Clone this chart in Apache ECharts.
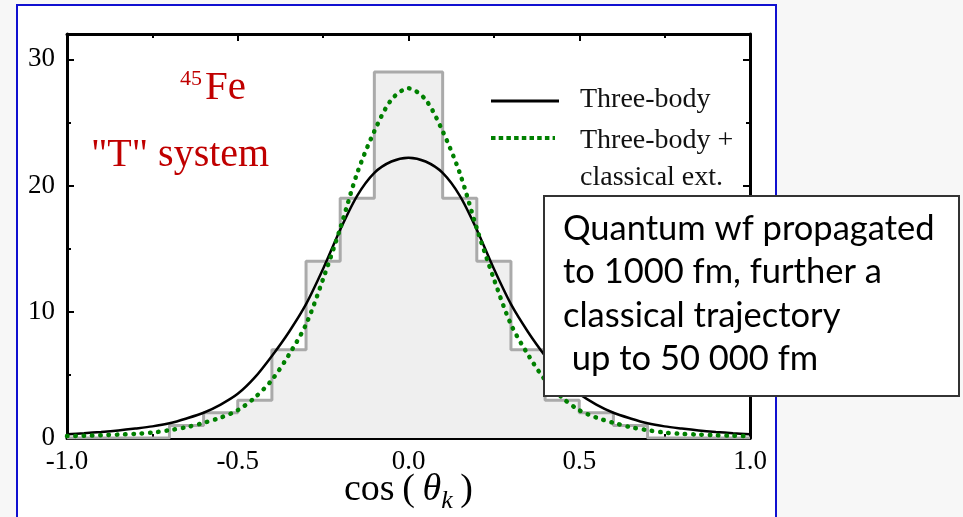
<!DOCTYPE html>
<html>
<head>
<meta charset="utf-8">
<script src="https://cdn.jsdelivr.net/npm/echarts@6/dist/echarts.min.js"></script>
<style>
html,body{margin:0;padding:0;background:#f7f7f7;}
#chart{width:963px;height:517px;}
</style>
</head>
<body>
<div id="chart"></div>
<script>
// Histogram bins (width 0.1) starting at these x values
const binStart = [-1.0,-0.9,-0.8,-0.7,-0.6,-0.5,-0.4,-0.3,-0.2,-0.1,0.0,0.1,0.2,0.3,0.4,0.5,0.6,0.7,0.8,0.9];
const binCounts = [0,0,0,1,2,3,7,14,19,29,29,19,14,7,3,2,1,0,0,0];
const binEnd = 1.0;

// Curves
const curveX = [-1.0,-0.95,-0.9,-0.85,-0.8,-0.75,-0.7,-0.65,-0.6,-0.55,-0.5,-0.45,-0.4,-0.35,-0.3,-0.25,-0.2,-0.15,-0.1,-0.05,
  0.0,0.05,0.1,0.15,0.2,0.25,0.3,0.35,0.4,0.45,0.5,0.55,0.6,0.65,0.7,0.75,0.8,0.85,0.9,0.95,1.0];
const threeBody = [0.3,0.38,0.48,0.6,0.75,0.92,1.17,1.55,2.0,2.65,3.5,4.8,6.5,8.4,10.6,13.4,16.5,19.2,21.0,21.9,
  22.2,21.9,21.0,19.2,16.5,13.4,10.6,8.4,6.5,4.8,3.5,2.65,2.0,1.55,1.17,0.92,0.75,0.6,0.48,0.38,0.3];
const classicalExt = [0.15,0.18,0.22,0.27,0.33,0.43,0.62,0.86,1.2,1.62,2.2,3.2,4.6,6.6,9.0,12.6,16.6,21.0,24.3,26.8,
  27.7,26.8,24.3,21.0,16.6,12.6,9.0,6.6,4.6,3.2,2.2,1.62,1.2,0.86,0.62,0.43,0.33,0.27,0.22,0.18,0.15];

const xTickLabels = ['-1.0','-0.5','0.0','0.5','1.0'];
const yTickLabels = ['0','10','20','30'];

const histData = binStart.map((x,i)=>[x, binCounts[i]]);
histData.push([binEnd, 0]);
const tbData = curveX.map((x,i)=>[x, threeBody[i]]);
const ceData = curveX.map((x,i)=>[x, classicalExt[i]]);

const serif = 'Liberation Serif';
const black = '#000';

function xAx(pos, labels){
  return {
    type:'value', min:-1, max:1, interval:0.5, position:pos, gridIndex:0,
    axisLine:{show:true, onZero:false, lineStyle:{color:black, width:3}},
    axisTick:{show:true, inside:true, length:7, lineStyle:{color:black, width:2}},
    minorTick:{show:true, splitNumber:2, length:4, lineStyle:{color:black, width:2}},
    splitLine:{show:false}, minorSplitLine:{show:false},
    axisLabel:{show:labels, margin:10, fontFamily:serif, fontSize:27, color:black,
      formatter:function(v){ const i = Math.round((v+1)/0.5); return xTickLabels[i] || ''; }}
  };
}
function yAx(pos, major, labels){
  return {
    type:'value', min:0, max:32, interval: major?10:5, position:pos, gridIndex:0,
    axisLine:{show:major, onZero:false, lineStyle:{color:black, width:3}},
    axisTick:{show:true, inside:true, length: major?7:4, lineStyle:{color:black, width:2}},
    splitLine:{show:false},
    axisLabel:{show:labels, margin:12, fontFamily:serif, fontSize:27, color:black, showMaxLabel:false,
      formatter:function(v){ const i = v/10; return Number.isInteger(i) ? (yTickLabels[i]||'') : ''; }}
  };
}

const xMain = xAx('bottom', true);
xMain.name = '{n|cos}{n|\u2009(\u2009}{i|θ}{s|k}{n|\u2009)}';
xMain.nameLocation = 'middle';
xMain.nameGap = 28;
xMain.nameMoveOverlap = false;
xMain.nameTextStyle = {
  rich:{
    n:{fontFamily:serif, fontSize:38, color:black},
    i:{fontFamily:serif, fontSize:38, fontStyle:'italic', color:black},
    s:{fontFamily:serif, fontSize:26, fontStyle:'italic', color:black, padding:[22,0,0,0]}
  }
};

const chart = echarts.init(document.getElementById('chart'), null, {renderer:'canvas'});
chart.setOption({
  backgroundColor:'#f7f7f7',
  animation:false,
  grid:{left:67, right:213, top:34, bottom:79, containLabel:false, outerBoundsMode:'none'},
  xAxis:[xMain, xAx('top', false)],
  yAxis:[yAx('left', true, true), yAx('left', false, false), yAx('right', true, false), yAx('right', false, false)],
  series:[
    {name:'histogram', type:'line', step:'end', data:histData, symbol:'none', z:1,
      lineStyle:{color:'#aaaaaa', width:3}, areaStyle:{color:'#efefef', opacity:1}},
    {name:'Three-body', type:'line', data:tbData, smooth:0.3, symbol:'none', z:3,
      lineStyle:{color:'#000', width:2.5}},
    {name:'Three-body + classical ext.', type:'line', data:ceData, smooth:0.3, symbol:'none', z:4,
      lineStyle:{color:'#008000', width:4.5, type:[0.5,7.8], cap:'round'}}
  ],
  graphic:[
    {type:'rect', z:-10, shape:{x:17, y:5, width:759, height:540}, style:{fill:'#fff', stroke:'#1010d0', lineWidth:2}},
    {type:'text', z:10, left:180, top:68, style:{text:'45', font:'22px "Liberation Serif"', fill:'#c00000'}},
    {type:'text', z:10, left:205, top:68, style:{text:'Fe', font:'41px "Liberation Serif"', fill:'#c00000'}},
    {type:'text', z:10, left:91, top:135, style:{text:'"T" system', font:'40px "Liberation Serif"', fill:'#c00000'}},
    {type:'line', z:10, shape:{x1:491, y1:101, x2:559, y2:101}, style:{stroke:'#000', lineWidth:3}},
    {type:'line', z:10, shape:{x1:491, y1:138, x2:555, y2:138}, style:{stroke:'#008000', lineWidth:4, lineDash:[4.5,3.2]}},
    {type:'text', z:10, left:580, top:86, style:{text:'Three-body', font:'28px "Liberation Serif"', fill:'#111'}},
    {type:'text', z:10, left:580, top:122, style:{text:'Three-body +\nclassical ext.', font:'28px "Liberation Serif"', lineHeight:37, fill:'#111'}},
    {type:'rect', z:100, shape:{x:544, y:196, width:415, height:200}, style:{fill:'#fff', stroke:'#333', lineWidth:2}},
    {type:'text', z:101, left:563, top:207, style:{text:'Quantum wf propagated\nto 1000 fm, further a\nclassical trajectory\n up to 50 000 fm',
      font:'34.5px Lato', lineHeight:43.5, fill:'#000'}}
  ]
});
</script>
</body>
</html>
